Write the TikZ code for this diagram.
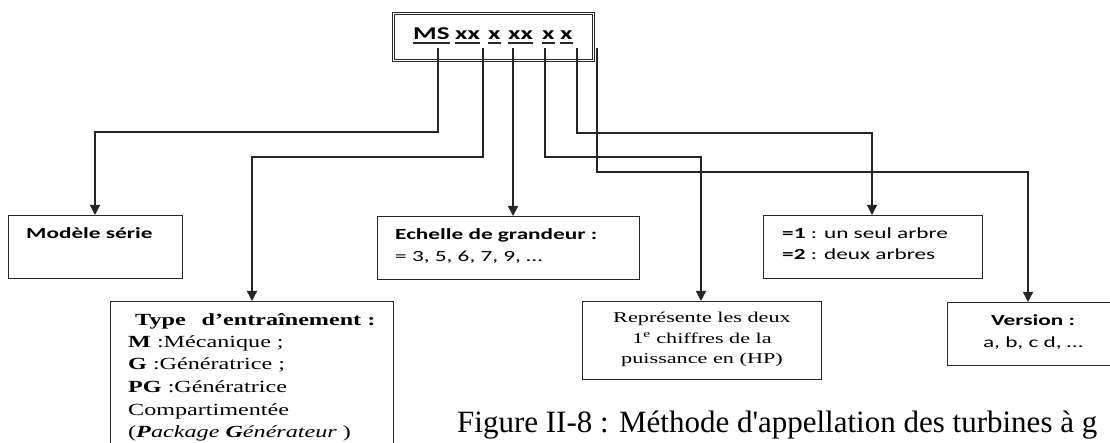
\documentclass[tikz,border=0pt]{standalone}
\usepackage{fontspec}
\setmainfont{Liberation Serif}
\newfontfamily\calfont{Carlito}[FakeStretch=1.5]
\newfontfamily\tmsfont{Liberation Serif}[FakeStretch=1.48]
\newfontfamily\typfont{Liberation Serif}[FakeStretch=1.42]
\usetikzlibrary{arrows.meta}
\begin{document}
\begin{tikzpicture}[x=1pt,y=-1pt,
  box/.style={draw=black!85, line width=1.3pt, inner sep=0pt, anchor=north west},
  conn/.style={draw=black!85, line width=1.3pt},
  arr/.style={conn, -{Triangle[length=10pt,width=10pt]}},
  calt/.style={font=\calfont\fontsize{15.5}{18}\selectfont, inner sep=0pt},
  tmst/.style={font=\tmsfont\fontsize{15}{18}\selectfont, inner sep=0pt},
  typt/.style={font=\typfont\fontsize{17}{20}\selectfont, inner sep=0pt, anchor=base west},
  codet/.style={font=\calfont\bfseries\fontsize{18}{20}\selectfont, inner sep=0pt, anchor=base west},
  uline/.style={draw=black!85, line width=1.1pt}
]
\useasboundingbox (0,0) rectangle (1110,443);

% code box
\node[draw=black!85, double, double distance=1.4pt, line width=0.9pt,
      minimum width=200, minimum height=47, inner sep=0pt] (code) at (493.5,37) {};
\node[codet] (ms)  at (413,40) {MS};
\node[codet] (xxa) at (455,40) {xx};
\node[codet] (xa)  at (488,40) {x};
\node[codet] (xxb) at (508,40) {xx};
\node[codet] (xb)  at (542,40) {x};
\node[codet] (xc)  at (560,40) {x};
\foreach \t in {ms,xxa,xa,xxb,xb,xc}
  \draw[uline] ([yshift=-3pt]\t.base west) -- ([yshift=-3pt]\t.base east);

% boxes
\node[box, minimum width=174, minimum height=63] (modele) at (8,215) {};
\node[box, minimum width=283, minimum height=150] (type) at (110,301) {};
\node[box, minimum width=262, minimum height=63] (echelle) at (377,216) {};
\node[box, minimum width=239, minimum height=78] (repr) at (582,301) {};
\node[box, minimum width=219, minimum height=63] (arbre) at (763,215) {};
\node[box, minimum width=190, minimum height=63] (version) at (947,302) {};

% texts
\node[calt, anchor=base west] (modeleT) at (26,239) {\bfseries Modèle série};

\node[typt] (ty1) at (135,325) {\bfseries Type\hspace{16pt}d’entraînement :};
\node[typt] (ty2) at (128,347) {\textbf{M} :Mécanique ;};
\node[typt] (ty3) at (128,369) {\textbf{G} :Génératrice ;};
\node[typt] (ty4) at (128,392) {\textbf{PG} :Génératrice};
\node[typt] (ty5) at (128,415) {Compartimentée};
\node[typt] (ty6) at (128,437) {(\textbf{\textit{P}}\textit{ackage} \textbf{\textit{G}}\textit{énérateur} )};

\node[calt, anchor=base west] (ech1) at (395,240) {\bfseries Echelle de grandeur :};
\node[calt, anchor=base west] (ech2) at (395,262) {= 3, 5, 6, 7, 9, …};

\node[tmst, anchor=base] (rep1) at (702,323) {Représente les deux};
\node[tmst, anchor=base] (rep2) at (702,343) {1\textsuperscript{e} chiffres de la};
\node[tmst, anchor=base] (rep3) at (702,363) {puissance en (HP)};

\node[calt, anchor=base west] (arb1) at (782,239) {\textbf{=1} : un seul arbre};
\node[calt, anchor=base west] (arb2) at (782,260) {\textbf{=2} : deux arbres};

\node[calt, anchor=base] (ver1) at (1033,325) {\bfseries Version :};
\node[calt, anchor=base] (ver2) at (1033,347) {a, b, c d, …};

% connector start and turn points
\coordinate (s1) at (438,48);
\coordinate (s2) at (483,48);
\coordinate (s3) at (513,48);
\coordinate (s4) at (545,48);
\coordinate (s5) at (577,48);
\coordinate (s6) at (597,48);
\coordinate (t1) at (95,132);
\coordinate (t2) at (252,157);
\coordinate (t4) at (701,157);
\coordinate (t5) at (872,133);
\coordinate (t6) at (1028,172);

\draw[arr] (s1) |- (t1) -- (t1 |- modele.north);
\draw[arr] (s2) |- (t2) -- (t2 |- type.north);
\draw[arr] (s3) -- (s3 |- echelle.north);
\draw[arr] (s4) |- (t4) -- (t4 |- repr.north);
\draw[arr] (s5) |- (t5) -- (t5 |- arbre.north);
\draw[arr] (s6) |- (t6) -- (t6 |- version.north);

% caption
\node[font=\fontsize{31}{36}\selectfont, inner sep=0pt, anchor=base west] (cap) at (457,432)
  {Figure II-8 : Méthode d\textquotesingle appellation des turbines à g};
\end{tikzpicture}
\end{document}
